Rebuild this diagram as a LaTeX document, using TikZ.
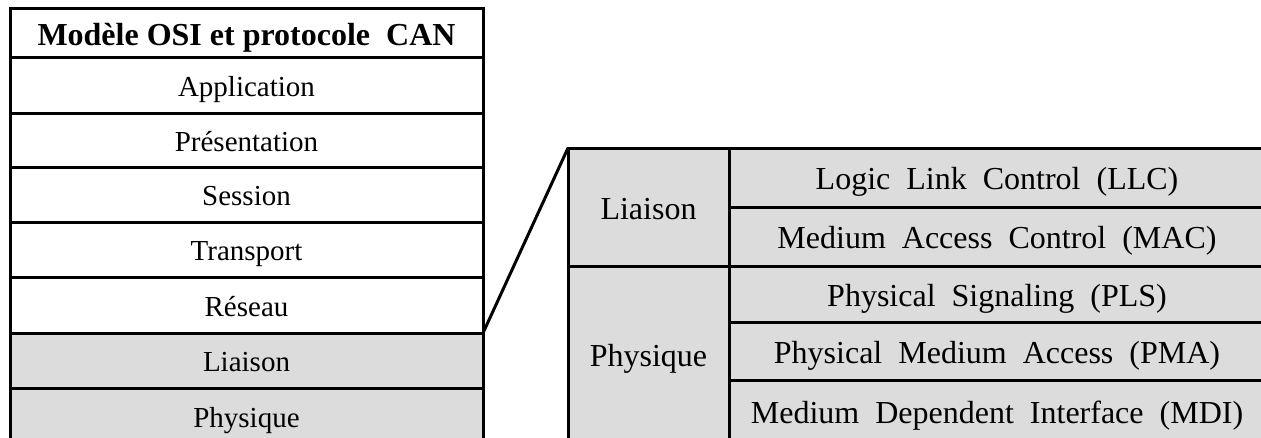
\documentclass[tikz,border=0pt]{standalone}
\usepackage{fontspec}
\setmainfont{Liberation Serif}
\newfontfamily\widespaced[WordSpace=2]{Liberation Serif}
\definecolor{cellgray}{RGB}{220,220,220}
\begin{document}
\begin{tikzpicture}[x=1pt,y=-1pt,
  cell/.style={draw=black,line width=3pt,rectangle,inner sep=0pt,outer sep=0pt,anchor=north west,align=center},
  lcell/.style={cell,minimum width=473pt,font=\fontsize{29}{34}\selectfont,text height=22pt,text depth=0pt},
  rcell/.style={cell,font=\widespaced\fontsize{32}{38}\selectfont,text height=24pt,text depth=0pt},
  shaded/.style={fill=cellgray},
  zoomline/.style={draw=black,line width=3pt}
]
\useasboundingbox (0,0) rectangle (1261,437);
\clip (0,0) rectangle (1261,437);
% left OSI table
\node[lcell,minimum height=49pt,font=\fontsize{32}{38}\selectfont\bfseries,text height=26pt] (hdr) at (10,8) {Modèle OSI et protocole\ \ CAN};
\node[lcell,minimum height=56pt] (app) at (10,57) {Application};
\node[lcell,minimum height=54pt] (pres) at (10,113) {Présentation};
\node[lcell,minimum height=55pt] (sess) at (10,167) {Session};
\node[lcell,minimum height=55pt] (trans) at (10,222) {Transport};
\node[lcell,minimum height=56pt] (res) at (10,277) {Réseau};
\node[lcell,shaded,minimum height=55pt] (liai) at (10,333) {Liaison};
\node[lcell,shaded,minimum height=56pt] (phys) at (10,388) {Physique};
% right CAN table
\node[rcell,shaded,minimum width=161pt,minimum height=118pt] (rliai) at (568,148) {Liaison};
\node[rcell,shaded,minimum width=161pt,minimum height=176pt] (rphys) at (568,266) {Physique};
\node[rcell,shaded,minimum width=536pt,minimum height=59pt] (llc) at (729,148) {Logic Link Control (LLC)};
\node[rcell,shaded,minimum width=536pt,minimum height=59pt] (mac) at (729,207) {Medium Access Control (MAC)};
\node[rcell,shaded,minimum width=536pt,minimum height=56pt] (pls) at (729,266) {Physical Signaling (PLS)};
\node[rcell,shaded,minimum width=536pt,minimum height=58pt] (pma) at (729,322) {Physical Medium Access (PMA)};
\node[rcell,shaded,minimum width=536pt,minimum height=62pt] (mdi) at (729,380) {Medium Dependent Interface (MDI)};
% zoom connector
\draw[zoomline] (res.south east) -- (rliai.north west);
\end{tikzpicture}
\end{document}
